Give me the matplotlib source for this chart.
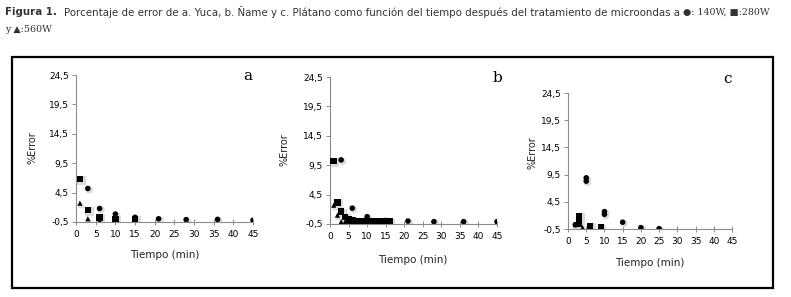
import matplotlib
matplotlib.use("Agg")
from matplotlib import pyplot as plt
from matplotlib.patches import Rectangle

W, H = 791, 297

# panel a: Yuca
a_t140 = [3, 6, 10, 15, 21, 28, 36, 45]
a_e140 = [5.2, 1.8, 0.85, 0.3, 0.05, -0.1, -0.05, -0.2]
a_t280 = [1, 3, 6, 10, 15]
a_e280 = [6.8, 1.55, 0.3, 0.0, 0.0]
a_t560 = [1, 3, 6, 10, 15]
a_e560 = [2.7, 0.05, -0.3, -0.3, -0.3]

# panel b: Ñame
b_t140 = [3, 6, 10, 15, 21, 28, 36, 45]
b_e140 = [10.4, 2.2, 0.75, 0.1, 0.0, -0.1, -0.1, -0.1]
b_t280 = [1, 2, 3, 4, 5, 5.5, 6, 6.5, 7, 7.5, 8, 8.5, 9, 9.5, 10, 10.5, 11,
          11.5, 12, 12.5, 13, 13.5, 14, 14.5, 15, 15.5, 16]
b_e280 = [10.2, 3.2, 1.6, 0.7, 0.3, 0.2, 0.1, 0.05, 0.0, 0.0, 0.0, -0.05,
          -0.05, -0.1, -0.1, -0.1, -0.1, -0.1, -0.1, -0.1, -0.1, -0.1, -0.1,
          -0.1, -0.1, -0.1, -0.1]
b_t560 = [1, 2, 3, 4, 5]
b_e560 = [2.7, 1.0, -0.1, -0.2, -0.3]

# panel c: Plátano
c_t140 = [2, 5, 5, 10, 10, 15, 20, 25]
c_e140 = [0.3, 8.9, 8.3, 2.7, 2.2, 0.75, -0.25, -0.45]
c_t280 = [3, 3, 3, 6, 9]
c_e280 = [1.8, 1.0, 0.5, 0.0, -0.25]
c_t560 = [2, 4]
c_e560 = [0.3, -0.25]

yticks = [-0.5, 4.5, 9.5, 14.5, 19.5, 24.5]
xticks = list(range(0, 50, 5))

fig = plt.figure(figsize=(W / 100, H / 100), dpi=100)


def px(x, y):
    return x / W, 1 - y / H


def draw_panel(rect, series, letter, letter_xy, ylab_xy, xlab_xy):
    l, t, r, b = rect
    ax = fig.add_axes([l / W, 1 - b / H, (r - l) / W, (b - t) / H])
    for (tt, ee, m, s) in series:
        # soft drop shadow like the original Excel markers
        ax.scatter([v + 0.35 for v in tt], [v - 0.25 for v in ee], marker=m,
                   s=s * 1.8, color="#dcdcdc", edgecolors="none", zorder=2)
        ax.scatter(tt, ee, marker=m, s=s, color="black",
                   edgecolors="none", zorder=3)
    ax.set_xlim(0, 45)
    ax.set_ylim(-0.5, 24.5)
    ax.set_xticks(xticks)
    ax.set_yticks(yticks)
    ax.set_yticklabels([("%.1f" % v).replace(".", ",") for v in yticks])
    for sp in ["top", "right"]:
        ax.spines[sp].set_visible(False)
    for sp in ["left", "bottom"]:
        ax.spines[sp].set_color("#8c8c8c")
        ax.spines[sp].set_linewidth(0.8)
    ax.tick_params(axis="x", direction="inout", length=5, width=0.7,
                   color="#8c8c8c", labelsize=6.5, pad=3)
    ax.tick_params(axis="y", direction="out", length=3, width=0.7,
                   color="#8c8c8c", labelsize=6.5, pad=2)
    ax.patch.set_alpha(0)
    fig.text(*px(*letter_xy), letter, family="DejaVu Serif", fontsize=11,
             ha="center", va="center")
    fig.text(*px(*ylab_xy), "%Error", fontsize=7, rotation=90,
             ha="center", va="center", color="#222222")
    fig.text(*px(*xlab_xy), "Tiempo (min)", fontsize=7.5,
             ha="center", va="center", color="#222222")
    return ax


circ, sq, tri = 16, 22, 14

draw_panel((76, 75, 253, 222),
           [(a_t140, a_e140, "o", circ), (a_t280, a_e280, "s", sq),
            (a_t560, a_e560, "^", tri)],
           "a", (248, 76), (33, 148), (165, 255))
draw_panel((330, 77, 497, 224),
           [(b_t140, b_e140, "o", circ), (b_t280, b_e280, "s", sq),
            (b_t560, b_e560, "^", tri)],
           "b", (497, 78), (285, 150), (413, 260))
draw_panel((568, 93, 732, 229),
           [(c_t140, c_e140, "o", circ), (c_t280, c_e280, "s", sq),
            (c_t560, c_e560, "^", tri)],
           "c", (727, 79), (532, 153), (650, 263))

# outer frame
x0, y0 = px(12, 288)
x1, y1 = px(773, 57)
fig.patches.append(Rectangle((x0, y0), x1 - x0, y1 - y0, transform=fig.transFigure,
                             fill=False, edgecolor="black", linewidth=1.6))

# caption
fig.text(*px(5, 12), "Figura 1.", family="DejaVu Sans", fontstretch="condensed",
         fontweight="bold", fontsize=8.2, va="center", color="#333333")
fig.text(*px(64, 12),
         "Porcentaje de error de a. Yuca, b. Ñame y c. Plátano como función del tiempo "
         "después del tratamiento de microondas a",
         family="DejaVu Sans", fontstretch="condensed", fontsize=8.2,
         va="center", color="#333333")
fig.text(*px(683, 12), "●: 140W, ■:280W", family=["DejaVu Serif"],
         fontsize=6.8, va="center", color="#333333")
fig.text(*px(5, 30), "y ▲:560W", family=["DejaVu Serif"],
         fontsize=6.8, va="center", color="#333333")

fig.savefig("out.png", dpi=100)
